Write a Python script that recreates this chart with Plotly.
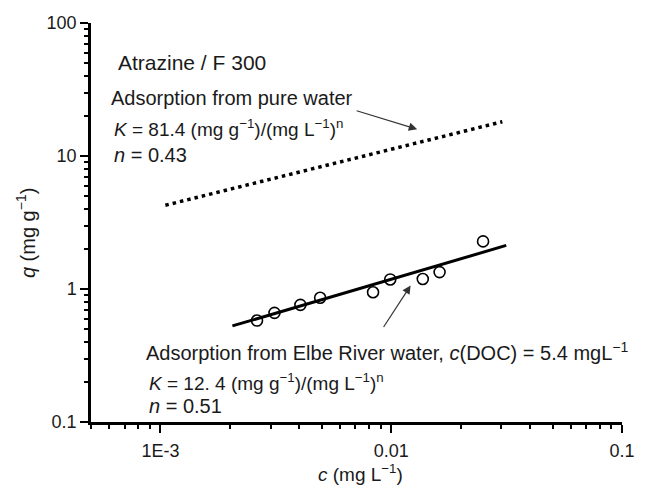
import numpy as np
import plotly.graph_objects as go

# Atrazine adsorption on F 300 activated carbon (Elbe River water measurements)
c_elbe = [0.00262, 0.00312, 0.00404, 0.00492, 0.00834, 0.0099, 0.0137, 0.0162, 0.0250]
q_elbe = [0.579, 0.662, 0.760, 0.859, 0.946, 1.18, 1.19, 1.34, 2.28]

# Freundlich isotherm parameters  q = K * c^n
K_pure, n_pure = 81.4, 0.43
c_pure_range = [0.00105, 0.0303]
K_elbe, n_elbe = 12.4, 0.51
c_elbe_range = [0.00205, 0.0315]

x_tickvals = [0.001, 0.01, 0.1]
x_ticktext = ["1E-3", "0.01", "0.1"]
y_tickvals = [0.1, 1, 10, 100]
y_ticktext = ["0.1", "1", "10", "100"]

FONT = "Arial, Liberation Sans, Helvetica, sans-serif"
INK = "#1a1a1a"


def freundlich(c, K, n):
    c = np.asarray(c, dtype=float)
    return K * c ** n


fig = go.Figure()

fig.add_trace(go.Scatter(
    x=c_pure_range, y=freundlich(c_pure_range, K_pure, n_pure),
    mode="lines", line=dict(color="black", width=3.5, dash="3.5px,4px"),
    showlegend=False, hoverinfo="skip"))

fig.add_trace(go.Scatter(
    x=c_elbe_range, y=freundlich(c_elbe_range, K_elbe, n_elbe),
    mode="lines", line=dict(color="black", width=3),
    showlegend=False, hoverinfo="skip"))

fig.add_trace(go.Scatter(
    x=c_elbe, y=q_elbe, mode="markers",
    marker=dict(symbol="circle-open", size=11, color="black",
                line=dict(width=1.6, color="black")),
    showlegend=False))

minor_x = [d * 10.0 ** e for e in (-4, -3, -2) for d in range(2, 10)]
minor_y = [d * 10.0 ** e for e in (-1, 0, 1) for d in range(2, 10)]

axis_common = dict(
    showline=True, linewidth=2.5, linecolor="black", mirror=False,
    ticks="outside", ticklen=8, tickwidth=2, tickcolor="black",
    showgrid=False, zeroline=False,
    tickfont=dict(family=FONT, size=18, color=INK),
)

fig.update_xaxes(
    type="log", range=[np.log10(5e-4), -1],
    tickmode="array", tickvals=x_tickvals, ticktext=x_ticktext,
    ticklabelstandoff=3,
    minor=dict(tickmode="array", tickvals=minor_x, ticks="outside",
               ticklen=4, tickwidth=2, tickcolor="black", showgrid=False),
    **axis_common)

fig.update_yaxes(
    type="log", range=[-1, 2],
    tickmode="array", tickvals=y_tickvals, ticktext=y_ticktext,
    minor=dict(tickmode="array", tickvals=minor_y, ticks="outside",
               ticklen=4, tickwidth=2, tickcolor="black", showgrid=False),
    **axis_common)

# Axis titles
fig.add_annotation(x=0.508, y=-0.128, xref="paper", yref="paper",
                   text="<i>c</i> (mg L<sup>−1</sup>)", showarrow=False,
                   xanchor="center", yanchor="middle",
                   font=dict(family=FONT, size=19, color=INK))
fig.add_annotation(x=-0.122, y=0.474, xref="paper", yref="paper",
                   text="<i>q</i> (mg g<sup>−1</sup>)", showarrow=False,
                   textangle=-90, xanchor="center", yanchor="middle",
                   font=dict(family=FONT, size=20, color=INK))

labels = [
    (0.048, 0.902, 21, "Atrazine / F 300"),
    (0.033, 0.812, 20, "Adsorption from pure water"),
    (0.039, 0.737, 19, "<i>K</i> = 81.4 (mg g<sup>−1</sup>)/(mg L<sup>−1</sup>)<sup>n</sup>"),
    (0.039, 0.669, 20, "<i>n</i> = 0.43"),
    (0.099, 0.176, 20, "Adsorption from Elbe River water, <i>c</i>(DOC) = 5.4 mgL<sup>−1</sup>"),
    (0.105, 0.101, 19, "<i>K</i> = 12. 4 (mg g<sup>−1</sup>)/(mg L<sup>−1</sup>)<sup>n</sup>"),
    (0.105, 0.040, 20, "<i>n</i> = 0.51"),
]
for x, y, size, t in labels:
    fig.add_annotation(x=x, y=y, xref="paper", yref="paper", text=t,
                       showarrow=False, xanchor="left", yanchor="middle",
                       font=dict(family=FONT, size=size, color=INK))

# Arrows pointing at the two isotherms
arrow_style = dict(showarrow=True, arrowhead=2, arrowsize=1.4, arrowwidth=1.2,
                   arrowcolor="#333333", text="", standoff=0)
fig.add_annotation(x=-1.8875, y=1.201, xref="x", yref="y", ax=-62, ay=-19,
                   **arrow_style)
fig.add_annotation(x=-1.916, y=0.0264, xref="x", yref="y", ax=-28, ay=43,
                   **arrow_style)

fig.update_layout(
    width=647, height=491,
    margin=dict(l=91, r=13, t=23, b=69),
    paper_bgcolor="white", plot_bgcolor="white",
    font=dict(family=FONT),
)

fig.write_html("out.html")
